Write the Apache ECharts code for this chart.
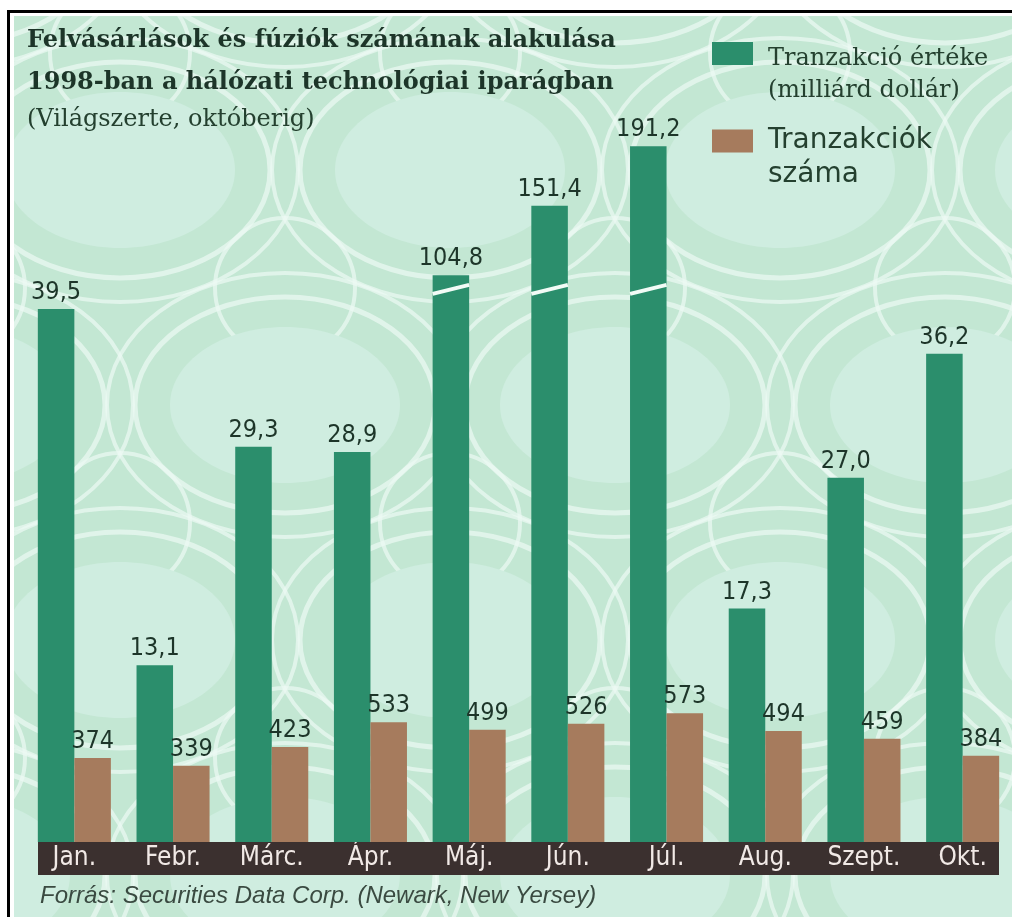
<!DOCTYPE html>
<html>
<head>
<meta charset="utf-8">
<script src="https://cdn.jsdelivr.net/npm/echarts@6/dist/echarts.min.js"></script>
<style>
  html, body { margin: 0; padding: 0; background: #ffffff; }
  #chart { width: 1012px; height: 917px; }
</style>
</head>
<body>
<div id="chart"></div>
<script>
// Monthly figures, 1998 (through October)
const months = ['Jan.', 'Febr.', 'Márc.', 'Ápr.', 'Máj.', 'Jún.', 'Júl.', 'Aug.', 'Szept.', 'Okt.'];
const dealValue = [39.5, 13.1, 29.3, 28.9, 104.8, 151.4, 191.2, 17.3, 27.0, 36.2]; // billion USD
const dealCount = [374, 339, 423, 533, 499, 526, 573, 494, 459, 384];

const valueName = 'Tranzakció értéke\n(milliárd dollár)';
const countName = 'Tranzakciók\nszáma';

// Scales: ordinary value bars, a compressed scale for the broken (very tall) bars, and counts
const LOW_MAX = 55;          // value axis for ordinary bars
const BREAK_AT = 41;         // bars above this are drawn broken
const TALL_MIN = -275.1;     // compressed scale used above the break
const TALL_MAX = 222.2;
const COUNT_MAX = 3300;
const CAT_GAP = 0.26;

const GREEN = '#2b8e6c';
const BROWN = '#a67b5d';
const INK = '#1d3529';
const NARROW = "'Liberation Sans Narrow', 'DejaVu Sans Condensed', 'Arial Narrow', sans-serif";
const SERIF = "'DejaVu Serif', 'Liberation Serif', serif";

const fmtBn = v => Number(v).toFixed(1).replace('.', ',');
const richLines = name => name.split('\n').map(s => '{t|' + s + '}').join('\n');

const lowValues = dealValue.map(v => (v > BREAK_AT ? '-' : v));
const tallValues = dealValue
  .map((v, i) => (v > BREAK_AT ? [i, v] : null))
  .filter(Boolean);

// Decorative lace texture of the panel
function lace() {
  const els = [];
  const ring = 'rgba(236,250,243,0.7)';
  for (let j = -1; j < 5; j++) {
    for (let i = -1; i < 5; i++) {
      const cx = 120 + i * 330 + (j % 2 ? 165 : 0);
      const cy = 170 + j * 235;
      els.push({ type: 'ellipse', silent: true, z: -9,
        shape: { cx, cy, rx: 115, ry: 78 },
        style: { fill: '#cfede0' } });
      els.push({ type: 'ellipse', silent: true, z: -9,
        shape: { cx, cy, rx: 150, ry: 108 },
        style: { fill: null, stroke: ring, lineWidth: 5 } });
      els.push({ type: 'ellipse', silent: true, z: -9,
        shape: { cx, cy, rx: 178, ry: 132 },
        style: { fill: null, stroke: ring, lineWidth: 4 } });
      els.push({ type: 'circle', silent: true, z: -9,
        shape: { cx: cx + 165, cy: cy + 118, r: 70 },
        style: { fill: null, stroke: ring, lineWidth: 4 } });
    }
  }
  return els;
}

// Broken bar: full bar up to the compressed value, with a white slanted cut
function renderTall(params, api) {
  const idx = api.value(0);
  const val = api.value(1);
  const cs = params.coordSys;
  const band = api.size([1, 0])[0];
  const cx = api.coord([idx, 0])[0];
  const bw = band * (1 - CAT_GAP) / 2;
  const x0 = cx - bw;
  const top = api.coord([idx, val])[1];
  const bottom = cs.y + cs.height;
  const yCut = bottom - cs.height * BREAK_AT / LOW_MAX;
  return {
    type: 'group',
    children: [
      { type: 'rect', shape: { x: x0, y: top, width: bw, height: bottom - top },
        style: { fill: GREEN } },
      { type: 'line', shape: { x1: x0, y1: yCut + 5, x2: x0 + bw, y2: yCut - 4 },
        style: { stroke: '#f2fbf6', lineWidth: 4 } },
      { type: 'text', x: x0 + bw / 2, y: top - 4,
        style: { text: fmtBn(val), align: 'center', verticalAlign: 'bottom',
          font: '25px ' + NARROW, fill: INK } }
    ]
  };
}

const chart = echarts.init(document.getElementById('chart'), null, { renderer: 'canvas' });

chart.setOption({
  animation: false,
  backgroundColor: '#ffffff',
  title: [
    {
      text: 'Felvásárlások és fúziók számának alakulása\n1998-ban a hálózati technológiai iparágban',
      subtext: '(Világszerte, októberig)',
      left: 27, top: 20, padding: 0, itemGap: 1,
      textStyle: { fontFamily: SERIF, fontWeight: 'bold', fontSize: 24, lineHeight: 42, color: INK },
      subtextStyle: { fontFamily: SERIF, fontSize: 24, lineHeight: 30, color: '#24402f' }
    },
    {
      text: 'Forrás: Securities Data Corp. (Newark, New Yersey)',
      left: 40, top: 884, padding: 0,
      textStyle: { fontFamily: "'Liberation Sans', Arial, sans-serif", fontStyle: 'italic',
        fontWeight: 'normal', fontSize: 24, color: '#3a4a41' }
    }
  ],
  legend: [
    {
      data: [valueName], left: 712, top: 42, padding: 0, orient: 'vertical',
      icon: 'rect', itemWidth: 41, itemHeight: 23, selectedMode: false,
      formatter: richLines,
      textStyle: { padding: [42, 0, 0, 10],
        rich: { t: { fontFamily: SERIF, fontSize: 24, lineHeight: 32, color: '#24402f' } } }
    },
    {
      data: [countName], left: 712, top: 127, padding: 0, orient: 'vertical',
      icon: 'rect', itemWidth: 41, itemHeight: 23, selectedMode: false,
      formatter: richLines,
      textStyle: { padding: [34, 0, 0, 10],
        rich: { t: { fontFamily: "'DejaVu Sans', sans-serif", fontSize: 28, lineHeight: 34,
          color: '#24402f' } } }
    }
  ],
  grid: { left: 25, right: 0, top: 100, bottom: 75 },
  xAxis: {
    type: 'category', data: months,
    axisLine: { show: false }, axisTick: { show: false },
    axisLabel: { interval: 0, margin: 3, color: '#f1e9e6', fontFamily: NARROW, fontSize: 26 }
  },
  yAxis: [
    { type: 'value', min: 0, max: LOW_MAX, show: false },
    { type: 'value', min: TALL_MIN, max: TALL_MAX, show: false },
    { type: 'value', min: 0, max: COUNT_MAX, show: false }
  ],
  graphic: [
    { type: 'rect', silent: true, z: -10, shape: { x: 0, y: 0, width: 1012, height: 917 },
      style: { fill: '#c3e7d3' } },
    ...lace(),
    { type: 'rect', silent: true, z: -8, shape: { x: 0, y: 0, width: 1012, height: 16 },
      style: { fill: '#ffffff' } },
    { type: 'rect', silent: true, z: -8, shape: { x: 0, y: 0, width: 14, height: 917 },
      style: { fill: '#ffffff' } },
    { type: 'rect', silent: true, z: -7, shape: { x: 7, y: 10, width: 1005, height: 3 },
      style: { fill: '#000000' } },
    { type: 'rect', silent: true, z: -7, shape: { x: 7, y: 10, width: 3, height: 907 },
      style: { fill: '#000000' } },
    { type: 'rect', silent: true, z: -6, shape: { x: 38, y: 842, width: 961, height: 33 },
      style: { fill: '#3b302f' } }
  ],
  series: [
    {
      name: valueName, type: 'bar', xAxisIndex: 0, yAxisIndex: 0,
      data: lowValues, barGap: '0%', barCategoryGap: (CAT_GAP * 100) + '%',
      itemStyle: { color: GREEN },
      label: { show: true, position: 'top', distance: 4, formatter: p => fmtBn(p.value),
        fontFamily: NARROW, fontSize: 25, color: INK }
    },
    {
      name: countName, type: 'bar', xAxisIndex: 0, yAxisIndex: 2,
      data: dealCount, barGap: '0%', barCategoryGap: (CAT_GAP * 100) + '%',
      itemStyle: { color: BROWN },
      label: { show: true, position: 'top', distance: 4,
        fontFamily: NARROW, fontSize: 25, color: INK }
    },
    {
      name: valueName, type: 'custom', xAxisIndex: 0, yAxisIndex: 1,
      data: tallValues, encode: { x: 0, y: 1 },
      itemStyle: { color: GREEN },
      renderItem: renderTall
    }
  ]
});
</script>
</body>
</html>
